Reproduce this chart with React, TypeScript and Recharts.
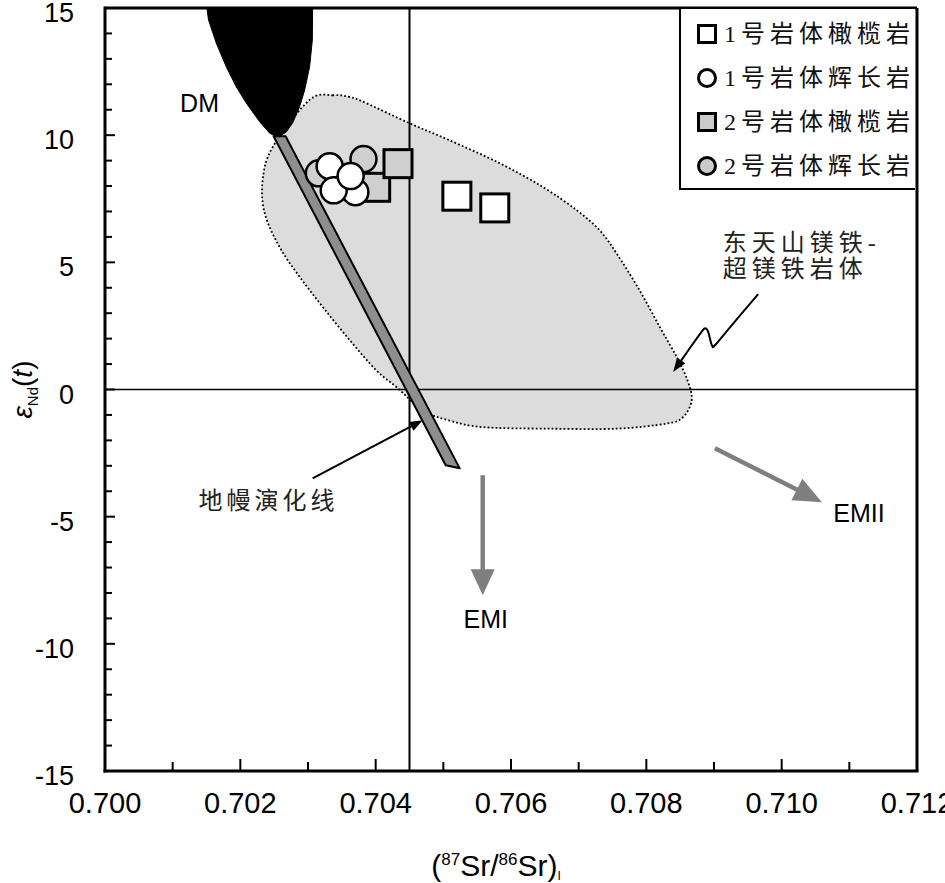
import React from 'react';
import { ScatterChart, Scatter, XAxis, YAxis, ReferenceLine, Legend, Label } from 'recharts';

type Pt = { x: number; y: number };

// ---------- axis ticks ----------
const xTicks = [0.7, 0.701, 0.702, 0.703, 0.704, 0.705, 0.706, 0.707, 0.708, 0.709, 0.71, 0.711, 0.712];
const yTicks = [-15, -14, -13, -12, -11, -10, -9, -8, -7, -6, -5, -4, -3, -2, -1, 0, 1, 2, 3, 4, 5, 6, 7, 8, 9, 10, 11, 12, 13, 14, 15];

// ---------- reference lines ----------
const srBulkEarth = 0.7045;
const ndChur = 0;
const vLine: Pt[] = [{ x: srBulkEarth, y: 15 }, { x: srBulkEarth, y: -15 }];
const hLine: Pt[] = [{ x: 0.7, y: ndChur }, { x: 0.712, y: ndChur }];

// ---------- fields ----------
const eastTianshanField: Pt[] = [
  { x: 0.70337, y: 11.57 }, { x: 0.70302, y: 11.38 }, { x: 0.70248, y: 9.54 }, { x: 0.70233, y: 8.23 },
  { x: 0.70236, y: 6.93 }, { x: 0.70258, y: 5.6 }, { x: 0.70288, y: 4.42 }, { x: 0.70322, y: 3.24 },
  { x: 0.70362, y: 1.93 }, { x: 0.70401, y: 0.75 }, { x: 0.70431, y: 0.09 }, { x: 0.7047, y: -0.83 },
  { x: 0.70509, y: -1.22 }, { x: 0.70558, y: -1.48 }, { x: 0.70657, y: -1.54 }, { x: 0.70756, y: -1.54 },
  { x: 0.7083, y: -1.34 }, { x: 0.70854, y: -1.09 }, { x: 0.70867, y: -0.43 }, { x: 0.70861, y: 0.35 },
  { x: 0.70845, y: 1.27 }, { x: 0.7082, y: 2.45 }, { x: 0.7079, y: 3.9 }, { x: 0.70756, y: 5.35 },
  { x: 0.70731, y: 6.26 }, { x: 0.70697, y: 7.05 }, { x: 0.70647, y: 7.96 }, { x: 0.70583, y: 8.9 },
  { x: 0.70509, y: 9.8 }, { x: 0.7045, y: 10.47 }, { x: 0.70386, y: 11.26 }, { x: 0.70362, y: 11.5 },
];

const dmField: Pt[] = [
  { x: 0.701505, y: 15 }, { x: 0.70153, y: 14.53 }, { x: 0.701644, y: 13.62 }, { x: 0.701792, y: 12.69 },
  { x: 0.70194, y: 11.9 }, { x: 0.702088, y: 11.26 }, { x: 0.702285, y: 10.53 }, { x: 0.702433, y: 10.08 },
  { x: 0.702532, y: 9.94 }, { x: 0.70258, y: 9.94 }, { x: 0.70268, y: 10.13 }, { x: 0.702773, y: 10.48 },
  { x: 0.702876, y: 11.12 }, { x: 0.70295, y: 11.77 }, { x: 0.703024, y: 12.69 }, { x: 0.703064, y: 13.74 },
  { x: 0.703068, y: 15 },
];

const mantleArray: Pt[] = [
  { x: 0.702492, y: 9.96 }, { x: 0.702669, y: 9.96 }, { x: 0.705242, y: -3.1 }, { x: 0.705035, y: -2.98 },
];

// ---------- samples ----------
const olivinite1: Pt[] = [{ x: 0.7052, y: 7.6 }, { x: 0.70576, y: 7.14 }];
const gabbro1: Pt[] = [
  { x: 0.7037, y: 7.76 }, { x: 0.70332, y: 8.78 }, { x: 0.70338, y: 7.83 }, { x: 0.70363, y: 8.39 },
];
const olivinite2: Pt[] = [{ x: 0.704, y: 7.95 }, { x: 0.70433, y: 8.88 }];
const gabbro2: Pt[] = [{ x: 0.70382, y: 9.06 }, { x: 0.70316, y: 8.5 }];

// ---------- annotation arrows ----------
const mantleLabelArrow: Pt[] = [{ x: 0.703068, y: -3.49 }, { x: 0.704695, y: -1.21 }];
const emiArrow: Pt[] = [{ x: 0.705582, y: -3.37 }, { x: 0.705582, y: -8.09 }];
const emiiArrow: Pt[] = [{ x: 0.709013, y: -2.31 }, { x: 0.710595, y: -4.43 }];
const fieldLabelArrow: Pt[] = [
  { x: 0.709653, y: 3.75 }, { x: 0.709338, y: 2.77 }, { x: 0.709028, y: 1.78 }, { x: 0.708969, y: 1.74 },
  { x: 0.708917, y: 2.25 }, { x: 0.708872, y: 2.41 }, { x: 0.708821, y: 2.29 }, { x: 0.708673, y: 1.74 },
  { x: 0.708396, y: 0.69 },
];

// ---------- text labels ----------
const latinLabels = [
  { x: 0.701397, y: 11.26, text: 'DM' },
  { x: 0.705627, y: -9.04, text: 'EMI' },
  { x: 0.711142, y: -4.87, text: 'EMII' },
];
const cjkCenterLabels = [{ x: 0.702388, y: -4.39, text: '地幔演化线' }];
const cjkLeftLabels = [
  { x: 0.709131, y: 5.76, text: '东天山镁铁-' },
  { x: 0.709131, y: 4.73, text: '超镁铁岩体' },
];

const legendLabels = ['1号岩体橄榄岩', '1号岩体辉长岩', '2号岩体橄榄岩', '2号岩体辉长岩'];

// ---------- styles ----------
const SANS = "'Liberation Sans', Arial, sans-serif";
const NARROW = "'Liberation Sans Narrow', 'Liberation Sans', Arial, sans-serif";
const CJK = "'Liberation Serif', 'Noto Sans CJK SC', serif";
const legendStyle = [
  { shape: 'square', fill: '#ffffff' },
  { shape: 'circle', fill: '#ffffff' },
  { shape: 'square', fill: '#cbcbcb' },
  { shape: 'circle', fill: '#cbcbcb' },
];

// ---------- helpers ----------
function catmull(pts: Pt[], closed: boolean): string {
  const n = pts.length;
  if (n < 2) return '';
  let d = `M${pts[0].x},${pts[0].y}`;
  const segs = closed ? n : n - 1;
  for (let i = 0; i < segs; i++) {
    const p0 = closed ? pts[(i - 1 + n) % n] : pts[Math.max(i - 1, 0)];
    const p1 = pts[i % n];
    const p2 = closed ? pts[(i + 1) % n] : pts[i + 1];
    const p3 = closed ? pts[(i + 2) % n] : pts[Math.min(i + 2, n - 1)];
    const c1x = p1.x + (p2.x - p0.x) / 6;
    const c1y = p1.y + (p2.y - p0.y) / 6;
    const c2x = p2.x - (p3.x - p1.x) / 6;
    const c2y = p2.y - (p3.y - p1.y) / 6;
    d += `C${c1x},${c1y},${c2x},${c2y},${p2.x},${p2.y}`;
  }
  return closed ? d + 'Z' : d;
}

const polygonLine = (fill: string, stroke: string, strokeWidth: number, dash?: string, smooth?: boolean) =>
  (props: any) => {
    const pts: Pt[] = props.points || [];
    if (pts.length < 2) return <g />;
    const d = smooth ? catmull(pts, true) : 'M' + pts.map((p) => `${p.x},${p.y}`).join('L') + 'Z';
    return (
      <path d={d} fill={fill} stroke={stroke} strokeWidth={strokeWidth} strokeDasharray={dash} strokeLinejoin="round" />
    );
  };

const straightLine = (stroke: string, strokeWidth: number) => (props: any) => {
  const pts: Pt[] = props.points || [];
  if (pts.length < 2) return <g />;
  return <line x1={pts[0].x} y1={pts[0].y} x2={pts[1].x} y2={pts[1].y} stroke={stroke} strokeWidth={strokeWidth} />;
};

const arrowLine = (color: string, width: number, headLen: number, headHalf: number, smooth?: boolean) =>
  (props: any) => {
    const pts: Pt[] = props.points || [];
    if (pts.length < 2) return <g />;
    const end = pts[pts.length - 1];
    const prev = pts[pts.length - 2];
    const dx = end.x - prev.x;
    const dy = end.y - prev.y;
    const len = Math.hypot(dx, dy) || 1;
    const ux = dx / len;
    const uy = dy / len;
    const bx = end.x - ux * headLen;
    const by = end.y - uy * headLen;
    const shaft = [...pts.slice(0, -1), { x: bx + ux * 2, y: by + uy * 2 }];
    const d = smooth ? catmull(shaft, false) : 'M' + shaft.map((p) => `${p.x},${p.y}`).join('L');
    const px = -uy;
    const py = ux;
    return (
      <g>
        <path d={d} fill="none" stroke={color} strokeWidth={width} strokeLinejoin="round" />
        <polygon
          points={`${end.x},${end.y} ${bx + px * headHalf},${by + py * headHalf} ${bx - px * headHalf},${by - py * headHalf}`}
          fill={color}
        />
      </g>
    );
  };

const Hidden = () => <g />;

const squareShape = (fill: string) => (p: any) => (
  <rect x={p.cx - 14} y={p.cy - 14} width={28} height={28} fill={fill} stroke="#000" strokeWidth={3} />
);
const circleShape = (fill: string) => (p: any) => (
  <circle cx={p.cx} cy={p.cy} r={13} fill={fill} stroke="#000" strokeWidth={2.5} />
);
const latinText = (p: any) => (
  <text x={p.cx} y={p.cy} textAnchor="middle" dominantBaseline="central" fontFamily={SANS} fontSize={25} fill="#000">
    {p.payload.text}
  </text>
);
const cjkCenterText = (p: any) => (
  <text x={p.cx + 2} y={p.cy} textAnchor="middle" dominantBaseline="central" fontFamily={CJK} fontSize={24} letterSpacing={4} fill="#222">
    {p.payload.text}
  </text>
);
const cjkLeftText = (p: any) => (
  <text x={p.cx} y={p.cy} textAnchor="start" dominantBaseline="central" fontFamily={CJK} fontSize={24} letterSpacing={5} fill="#222">
    {p.payload.text}
  </text>
);

const XTick = (props: any) => {
  const { x, y, payload } = props;
  const v = payload.value as number;
  const major = Math.round(v * 1000) % 2 === 0;
  return (
    <g>
      <line x1={x} x2={x} y1={y} y2={y - (major ? 12 : 9)} stroke="#000" strokeWidth={2} />
      {major && (
        <text x={x} y={y + 32} textAnchor="middle" dominantBaseline="central" fontFamily={NARROW} fontSize={29} fill="#000">
          {v.toFixed(3)}
        </text>
      )}
    </g>
  );
};

const YTick = (props: any) => {
  const { x, y, payload } = props;
  const v = payload.value as number;
  const major = Math.round(v) % 5 === 0;
  return (
    <g>
      <line x1={x} x2={x + (major ? 10 : 7)} y1={y} y2={y} stroke="#000" strokeWidth={2} />
      {major && (
        <text x={x - 31} y={y + 5} textAnchor="end" dominantBaseline="central" fontFamily={SANS} fontSize={27} fill="#000">
          {v}
        </text>
      )}
    </g>
  );
};

const renderLegend = () => (
  <div
    style={{
      width: 236,
      height: 181,
      boxSizing: 'border-box',
      borderLeft: '2px solid #000',
      borderBottom: '2px solid #000',
      background: '#fff',
      paddingTop: 3,
      paddingLeft: 16,
    }}
  >
    {legendLabels.map((label, i) => (
      <div key={label} style={{ height: 44, display: 'flex', alignItems: 'center' }}>
        <svg width={20} height={20} style={{ display: 'block' }}>
          {legendStyle[i].shape === 'square' ? (
            <rect x={1.5} y={1.5} width={17} height={17} fill={legendStyle[i].fill} stroke="#000" strokeWidth={3} />
          ) : (
            <circle cx={10} cy={10} r={8.5} fill={legendStyle[i].fill} stroke="#000" strokeWidth={3} />
          )}
        </svg>
        <span style={{ marginLeft: 7, fontFamily: CJK, fontSize: 24, letterSpacing: 5, color: '#111', lineHeight: 1, whiteSpace: 'nowrap' }}>
          {label}
        </span>
      </div>
    ))}
  </div>
);

const renderYLabel = (p: any) => {
  const vb = p.viewBox || { x: 25, y: 8, width: 80, height: 763 };
  const cx = vb.x + 7;
  const cy = vb.y + vb.height / 2;
  return (
    <text transform={`translate(${cx},${cy}) rotate(-90)`} textAnchor="middle" fontFamily={SANS} fontSize={28} fill="#000">
      <tspan fontStyle="italic">ε</tspan>
      <tspan fontSize={15} dy={6}>Nd</tspan>
      <tspan dy={-6}>(</tspan>
      <tspan fontStyle="italic">t</tspan>
      <tspan>)</tspan>
    </text>
  );
};

const renderXLabel = (p: any) => {
  const vb = p.viewBox || { x: 105, y: 771, width: 812, height: 112 };
  const cx = vb.x + vb.width / 2 - 15;
  const cy = vb.y + 105;
  return (
    <text x={cx} y={cy} textAnchor="middle" fontFamily={SANS} fontSize={30} fill="#000">
      <tspan>(</tspan>
      <tspan fontSize={17} dy={-11}>87</tspan>
      <tspan dy={11}>Sr/</tspan>
      <tspan fontSize={17} dy={-11}>86</tspan>
      <tspan dy={11}>Sr)</tspan>
      <tspan fontSize={12} dy={4}>I</tspan>
    </text>
  );
};

export default function App() {
  return (
    <div style={{ position: 'absolute', left: 0, top: 0, width: 945, height: 883, background: '#fff' }}>
      <ScatterChart width={945} height={883} margin={{ top: 8, right: 28, bottom: 0, left: 25 }}>
        <XAxis
          type="number"
          dataKey="x"
          domain={[0.7, 0.712]}
          ticks={xTicks}
          interval={0}
          allowDataOverflow
          height={112}
          tickSize={0}
          tickMargin={0}
          tickLine={false}
          tick={<XTick />}
          axisLine={{ stroke: '#000', strokeWidth: 3, strokeLinecap: 'square' }}
        >
          <Label content={renderXLabel} />
        </XAxis>
        <YAxis
          type="number"
          dataKey="y"
          domain={[-15, 15]}
          ticks={yTicks}
          interval={0}
          allowDataOverflow
          width={80}
          tickSize={0}
          tickMargin={0}
          tickLine={false}
          tick={<YTick />}
          axisLine={{ stroke: '#000', strokeWidth: 3, strokeLinecap: 'square' }}
        >
          <Label content={renderYLabel} />
        </YAxis>

        <Scatter data={eastTianshanField} isAnimationActive={false} shape={Hidden}
          line={polygonLine('#dcdcdc', '#000', 1.8, '1.8 2.2', true)} />
        <Scatter data={vLine} isAnimationActive={false} shape={Hidden} line={straightLine('#000', 2)} />
        <Scatter data={hLine} isAnimationActive={false} shape={Hidden} line={straightLine('#000', 1.6)} />
        <Scatter data={mantleArray} isAnimationActive={false} shape={Hidden}
          line={polygonLine('#8e8e8e', '#000', 2)} />
        <Scatter data={dmField} isAnimationActive={false} shape={Hidden}
          line={polygonLine('#000', '#000', 1, undefined, false)} />

        <Scatter data={mantleLabelArrow} isAnimationActive={false} shape={Hidden} line={arrowLine('#000', 2, 13, 5)} />
        <Scatter data={fieldLabelArrow} isAnimationActive={false} shape={Hidden} line={arrowLine('#000', 2, 14, 5, true)} />
        <Scatter data={emiArrow} isAnimationActive={false} shape={Hidden} line={arrowLine('#7f7f7f', 4.5, 26, 12)} />
        <Scatter data={emiiArrow} isAnimationActive={false} shape={Hidden} line={arrowLine('#7f7f7f', 4.5, 28, 12)} />

        <Scatter data={latinLabels} isAnimationActive={false} shape={latinText} />
        <Scatter data={cjkCenterLabels} isAnimationActive={false} shape={cjkCenterText} />
        <Scatter data={cjkLeftLabels} isAnimationActive={false} shape={cjkLeftText} />

        <Scatter name="2号岩体橄榄岩" data={olivinite2} isAnimationActive={false} shape={squareShape('#cfcfcf')} />
        <Scatter name="2号岩体辉长岩" data={gabbro2} isAnimationActive={false} shape={circleShape('#cfcfcf')} />
        <Scatter name="1号岩体辉长岩" data={gabbro1} isAnimationActive={false} shape={circleShape('#ffffff')} />
        <Scatter name="1号岩体橄榄岩" data={olivinite1} isAnimationActive={false} shape={squareShape('#ffffff')} />

        <ReferenceLine y={15} stroke="#000" strokeWidth={3} />
        <ReferenceLine x={0.712} stroke="#000" strokeWidth={3} />

        <Legend
          layout="vertical"
          align="center"
          verticalAlign="middle"
          content={renderLegend}
          wrapperStyle={{ left: 679, top: 9, width: 236, height: 181 }}
        />
      </ScatterChart>
    </div>
  );
}
